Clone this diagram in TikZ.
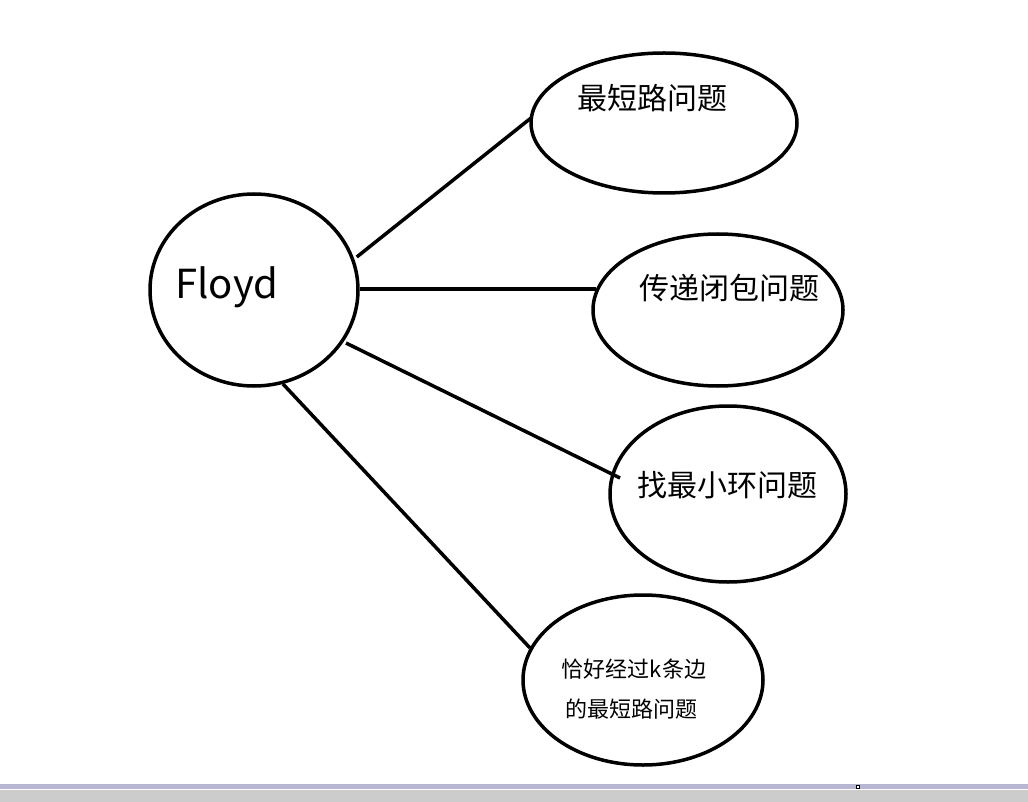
\documentclass[tikz,border=0pt]{standalone}
\usepackage{fontspec}
\setmainfont{Noto Sans CJK SC}
\usetikzlibrary{shapes.geometric}
\begin{document}
\begin{tikzpicture}[x=1pt,y=-1pt,
  ell/.style={draw,line width=3.5pt,ellipse,inner sep=0pt},
  conn/.style={line width=3.5pt}]
\useasboundingbox (0,0) rectangle (1028,802);
\fill[white] (0,0) rectangle (1028,802);
\fill[black!20] (0,790) rectangle (1028,802);
\fill[blue!25!gray!45] (0,784) rectangle (1028,789);
\node[draw,fill=white,minimum size=3pt,inner sep=0pt,line width=0.5pt] (sq) at (858,786.5) {};
\node[ell,minimum width=208pt,minimum height=192pt] (f) at (254,290) {};
\node[anchor=west,font=\fontsize{40}{40}\selectfont] (ft) at (172,287) {Floyd};
\node[ell,minimum width=266pt,minimum height=140pt] (a) at (664,123) {};
\node[font=\fontsize{30}{30}\selectfont] (at) at (652,98) {最短路问题};
\node[ell,minimum width=250pt,minimum height=152pt] (b) at (718,310) {};
\node[font=\fontsize{30}{30}\selectfont] (bt) at (729,288) {传递闭包问题};
\node[ell,minimum width=236pt,minimum height=176pt] (c) at (728,494) {};
\node[font=\fontsize{30}{30}\selectfont] (ct) at (727,485) {找最小环问题};
\node[ell,minimum width=240pt,minimum height=170pt] (d) at (643,680) {};
\node[font=\fontsize{22}{40}\selectfont,align=left] (dt) at (634,689) {恰好经过k条边\\\,的最短路问题};
\coordinate (p1) at (531,118); \coordinate (p2) at (596,289);
\coordinate (p3) at (620,478); \coordinate (p4) at (530,648);
\draw[conn] (f.east) ++(-3,-33) -- (p1);
\draw[conn] (360,289) -- (p2);
\draw[conn] (346,343) -- (p3);
\draw[conn] (283,384) -- (p4);
\end{tikzpicture}
\end{document}
